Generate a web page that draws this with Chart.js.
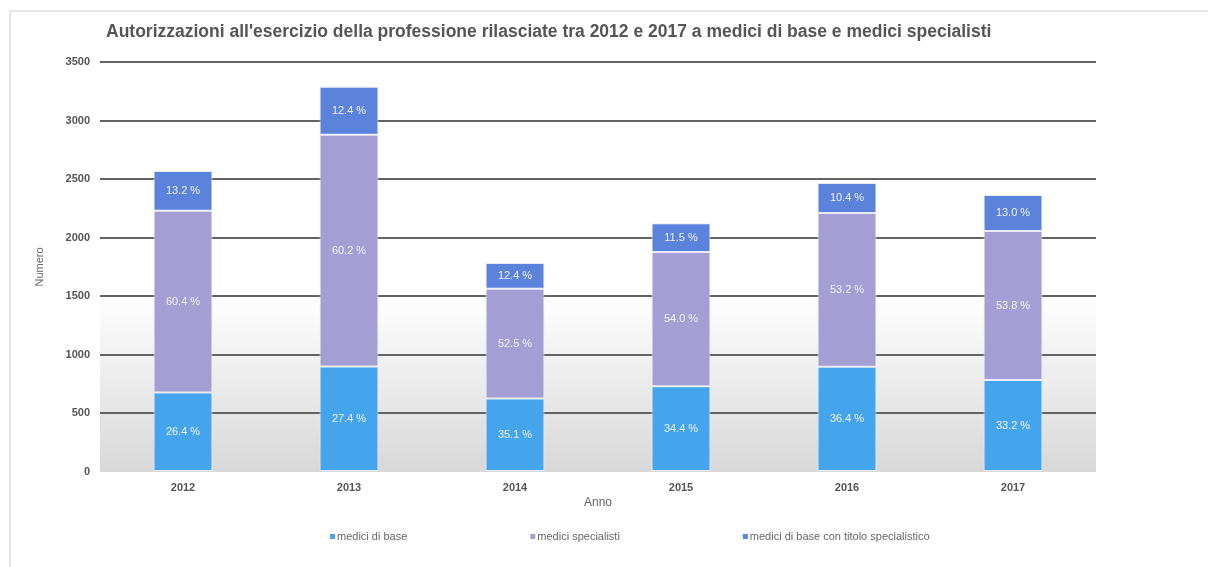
<!DOCTYPE html>
<html>
<head>
<meta charset="utf-8">
<script src="https://cdn.jsdelivr.net/npm/chart.js@4/dist/chart.umd.min.js"></script>
<style>
  body { margin: 0; background: #fff; }
  #frame { position: absolute; left: 9px; top: 10px; width: 1199px; height: 557px;
           border-left: 2px solid #e6e6e6; border-top: 2px solid #e6e6e6; }
  #authChart { position: absolute; left: 0; top: 0; }
</style>
</head>
<body>
<div id="frame"></div>
<canvas id="authChart" width="1208" height="567"></canvas>
<script>
const years = ["2012", "2013", "2014", "2015", "2016", "2017"];
const mediciBase = [678, 901, 627, 731, 898, 785];
const mediciSpecialisti = [1552, 1979, 937, 1148, 1313, 1272];
const baseConTitolo = [339, 408, 221, 245, 257, 307];
const pctBase = ["26.4 %", "27.4 %", "35.1 %", "34.4 %", "36.4 %", "33.2 %"];
const pctSpecialisti = ["60.4 %", "60.2 %", "52.5 %", "54.0 %", "53.2 %", "53.8 %"];
const pctTitolo = ["13.2 %", "12.4 %", "12.4 %", "11.5 %", "10.4 %", "13.0 %"];
const chartTitle = "Autorizzazioni all'esercizio della professione rilasciate tra 2012 e 2017 a medici di base e medici specialisti";

const fontFamily = "'Liberation Sans', Arial, sans-serif";
const pctLabels = [pctBase, pctSpecialisti, pctTitolo];

// grey gradient in the lower part of the plot
const bgPlugin = {
  id: "bgGradient",
  beforeDraw(chart) {
    const {ctx, chartArea} = chart;
    const y = chart.scales.y;
    const top = y.getPixelForValue(1500);
    const g = ctx.createLinearGradient(0, top, 0, chartArea.bottom);
    g.addColorStop(0, "#fefefe");
    g.addColorStop(1, "#d8d8d8");
    ctx.save();
    ctx.fillStyle = g;
    ctx.fillRect(chartArea.left, top, chartArea.right - chartArea.left, chartArea.bottom - top);
    ctx.restore();
  }
};

const labelPlugin = {
  id: "segLabels",
  afterDatasetsDraw(chart) {
    const {ctx} = chart;
    ctx.save();
    ctx.font = "11px " + fontFamily;
    ctx.fillStyle = "#f2f2f2";
    ctx.textAlign = "center";
    ctx.textBaseline = "middle";
    chart.data.datasets.forEach((ds, i) => {
      chart.getDatasetMeta(i).data.forEach((bar, j) => {
        ctx.fillText(pctLabels[i][j], bar.x, (bar.y + bar.base) / 2);
      });
    });
    ctx.restore();
  }
};

const extrasPlugin = {
  id: "extras",
  afterDraw(chart) {
    const {ctx} = chart;
    ctx.save();
    ctx.font = "bold 17.5px " + fontFamily;
    ctx.fillStyle = "#555555";
    ctx.textAlign = "left";
    ctx.textBaseline = "middle";
    ctx.fillText(chartTitle, 106, 32);

    ctx.font = "11px " + fontFamily;
    ctx.textBaseline = "middle";
    let x = 330;
    chart.data.datasets.forEach((ds) => {
      ctx.fillStyle = ds.backgroundColor;
      ctx.fillRect(x, 534, 5, 5);
      ctx.fillStyle = "#666666";
      ctx.fillText(ds.label, x + 7, 537);
      x += 7 + ctx.measureText(ds.label).width + 123;
    });
    ctx.restore();
  }
};

new Chart("authChart", {
  type: "bar",
  data: {
    labels: years,
    datasets: [
      {
        label: "medici di base",
        data: mediciBase,
        backgroundColor: "#45a5ec",
        borderColor: "#e4eefa",
        borderWidth: 1,
        borderSkipped: false
      },
      {
        label: "medici specialisti",
        data: mediciSpecialisti,
        backgroundColor: "#a49ed4",
        borderColor: "#ecebf6",
        borderWidth: 1,
        borderSkipped: false
      },
      {
        label: "medici di base con titolo specialistico",
        data: baseConTitolo,
        backgroundColor: "#5b83db",
        borderColor: "#e4eaf8",
        borderWidth: 1,
        borderSkipped: false
      }
    ]
  },
  options: {
    responsive: false,
    animation: false,
    barPercentage: 0.355,
    categoryPercentage: 1,
    layout: {
      padding: { left: 0, top: 62, right: 112, bottom: 0 }
    },
    plugins: {
      legend: { display: false },
      title: { display: false },
      tooltip: { enabled: false }
    },
    scales: {
      x: {
        stacked: true,
        grid: { display: false, drawTicks: false },
        border: { display: false },
        ticks: {
          color: "#555555",
          padding: 9,
          font: { family: fontFamily, size: 11, weight: "bold" }
        },
        title: {
          display: true,
          text: "Anno",
          color: "#666666",
          padding: { top: 0, bottom: 57 },
          font: { family: fontFamily, size: 12 }
        },
        afterFit(scale) { scale.height = 95; }
      },
      y: {
        stacked: true,
        min: 0,
        max: 3500,
        border: { display: false },
        grid: {
          drawTicks: false,
          lineWidth: 2,
          color: (c) => c.tick && c.tick.value === 0 ? "rgba(0,0,0,0)" : "#636363"
        },
        ticks: {
          stepSize: 500,
          color: "#555555",
          padding: 10,
          callback: (v) => String(v),
          font: { family: fontFamily, size: 11, weight: "bold" }
        },
        title: {
          display: true,
          text: "Numero",
          color: "#666666",
          padding: { top: 33, bottom: 0 },
          font: { family: fontFamily, size: 11 }
        },
        afterFit(scale) { scale.width = 100; }
      }
    }
  },
  plugins: [bgPlugin, labelPlugin, extrasPlugin]
});
</script>
</body>
</html>
